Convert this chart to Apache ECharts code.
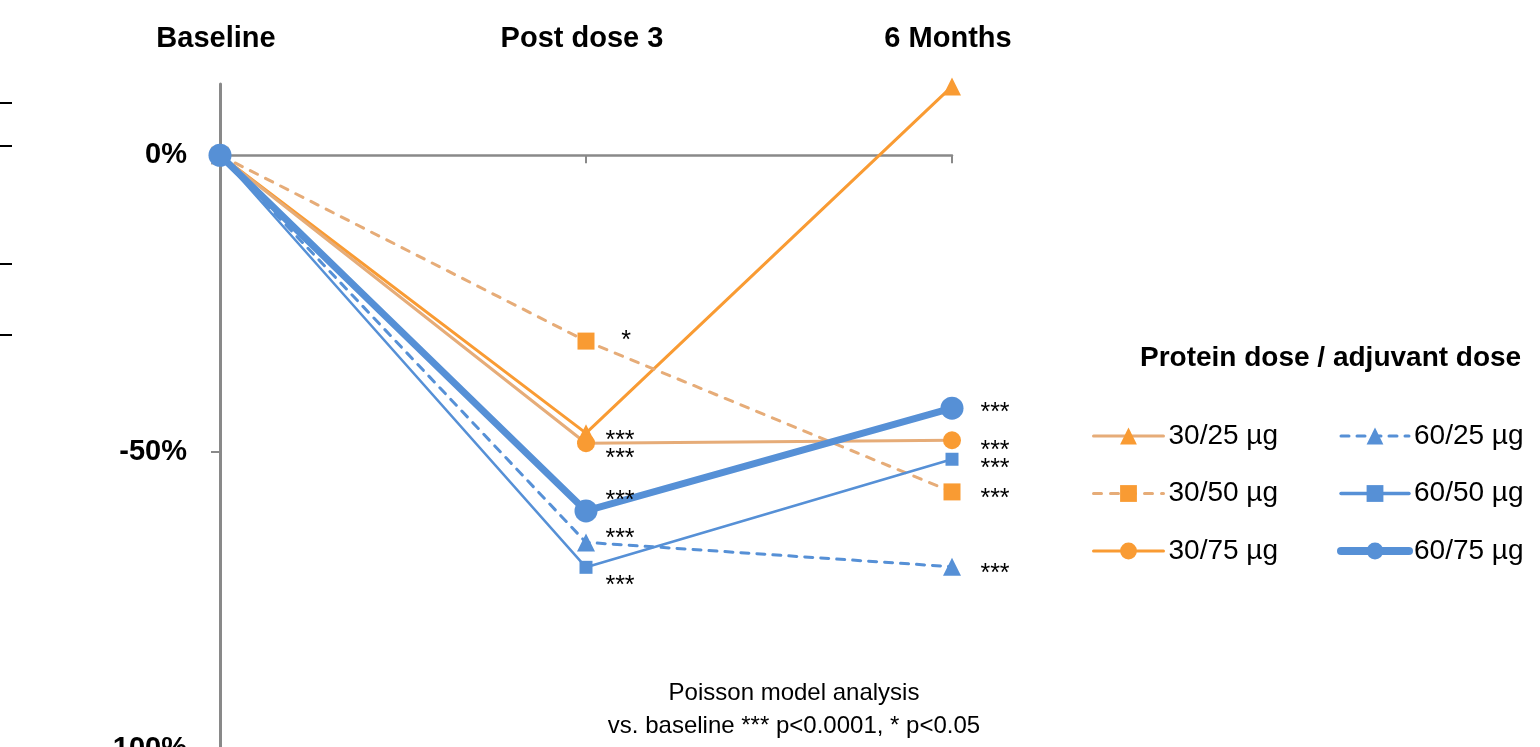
<!DOCTYPE html>
<html>
<head>
<meta charset="utf-8">
<script src="https://cdn.jsdelivr.net/npm/echarts@6/dist/echarts.min.js"></script>
<style>html,body{margin:0;padding:0;background:#fff}#c{width:1540px;height:747px}</style>
</head>
<body>
<div id="c"></div>
<script>
// ---- data ----
const categories = ['Baseline', 'Post dose 3', '6 Months'];
const seriesNames = ['30/25 µg', '30/50 µg', '30/75 µg', '60/25 µg', '60/50 µg', '60/75 µg'];
const v3025 = [0, -46.8, 11.6];
const v3050 = [0, -31.3, -56.7];
const v3075 = [0, -48.5, -48.0];
const v6025 = [0, -65.2, -69.3];
const v6050 = [0, -69.4, -51.2];
const v6075 = [0, -59.9, -42.6];
const sig3025 = ['', '***', ''];
const sig3050 = ['', '*', '***'];
const sig3075 = ['', '***', '***'];
const sig6025 = ['', '***', '***'];
const sig6050 = ['', '***', '***'];
const sig6075 = ['', '***', '***'];
const yTicks = [-100, -50, 0];
const footnote = 'Poisson model analysis\nvs. baseline *** p<0.0001, * p<0.05';
const legendTitle = 'Protein dose / adjuvant dose';

// ---- label placement (layout only) ----
const sigPos = {
  '30/25 µg': [[0, 0], [34, 8], [43, 0]],
  '30/50 µg': [[0, 0], [40, 0], [43, 7]],
  '30/75 µg': [[0, 0], [34, 16], [43, 11]],
  '60/25 µg': [[0, 0], [34, -3], [43, 7]],
  '60/50 µg': [[0, 0], [34, 19], [43, 10]],
  '60/75 µg': [[0, 0], [34, -10], [43, 5]]
};

const ORANGE = '#F99B33';
const TAN = '#E6AC78';
const BLUE = '#5690D6';
const FONT = '"Liberation Sans", Arial, sans-serif';

function mkData(vals, sig, name) {
  return vals.map((v, i) => ({
    value: v,
    label: {
      show: !!sig[i],
      formatter: sig[i] || '',
      position: 'inside',
      align: 'center',
      verticalAlign: 'middle',
      offset: sigPos[name][i],
      color: '#000',
      fontSize: 25,
      fontFamily: FONT
    }
  }));
}

function mkSeries(name, vals, sig, style) {
  return {
    name: name,
    type: 'line',
    xAxisIndex: 0,
    data: mkData(vals, sig, name),
    symbol: style.symbol,
    symbolSize: style.symbolSize,
    showAllSymbol: true,
    itemStyle: { color: style.marker },
    lineStyle: { color: style.line, width: style.width, type: style.dash || 'solid', cap: 'round' },
    emphasis: { disabled: true },
    animation: false,
    z: style.z
  };
}

const series = [
  mkSeries(seriesNames[0], v3025, sig3025, { symbol: 'triangle', symbolSize: 18, marker: ORANGE, line: ORANGE, width: 3, z: 2 }),
  mkSeries(seriesNames[1], v3050, sig3050, { symbol: 'rect', symbolSize: 17, marker: ORANGE, line: TAN, width: 3, dash: [8, 9], z: 2 }),
  mkSeries(seriesNames[2], v3075, sig3075, { symbol: 'circle', symbolSize: 18, marker: ORANGE, line: TAN, width: 3, z: 2 }),
  mkSeries(seriesNames[3], v6025, sig6025, { symbol: 'triangle', symbolSize: 18, marker: BLUE, line: BLUE, width: 3, dash: [8, 8], z: 3 }),
  mkSeries(seriesNames[4], v6050, sig6050, { symbol: 'rect', symbolSize: 13, marker: BLUE, line: BLUE, width: 2.5, z: 3 }),
  mkSeries(seriesNames[5], v6075, sig6075, { symbol: 'circle', symbolSize: 23, marker: BLUE, line: BLUE, width: 7, z: 4 })
];

const legendText = { color: '#000', fontSize: 28, fontFamily: FONT };
const legendLine = {
  '30/25 µg': { width: 3, color: TAN },
  '30/50 µg': { width: 3, color: TAN },
  '30/75 µg': { width: 3, color: ORANGE },
  '60/25 µg': { width: 3, color: BLUE },
  '60/50 µg': { width: 3.5, color: BLUE },
  '60/75 µg': { width: 8, color: BLUE }
};
function legendItems(names) {
  return names.map(n => ({ name: n, lineStyle: legendLine[n] }));
}

const option = {
  backgroundColor: '#fff',
  animation: false,
  title: [
    {
      text: footnote,
      left: 789, top: 672, textAlign: 'center',
      textStyle: { color: '#000', fontSize: 24, fontWeight: 'normal', fontFamily: FONT, lineHeight: 33 }
    },
    {
      text: legendTitle,
      left: 1135, top: 339,
      textStyle: { color: '#000', fontSize: 28, fontWeight: 'bold', fontFamily: FONT }
    }
  ],
  grid: { left: 220, right: 588, top: 84, bottom: -2, containLabel: false, outerBoundsMode: 'none' },
  xAxis: [
    {
      type: 'category', data: categories, boundaryGap: false, position: 'top',
      axisLine: { show: false, onZero: false }, axisTick: { show: false },
      axisLabel: { margin: 31, padding: [0, 8, 0, 0], color: '#000', fontSize: 29, fontWeight: 'bold', fontFamily: FONT },
      splitLine: { show: false }
    },
    {
      type: 'category', data: categories, boundaryGap: false, position: 'bottom',
      axisLine: { show: true, onZero: true, lineStyle: { color: '#898989', width: 2.5 } },
      axisTick: { show: true, length: 8, lineStyle: { color: '#898989', width: 2 } },
      axisLabel: { show: false },
      splitLine: { show: false }
    }
  ],
  yAxis: {
    type: 'value', min: -100, max: 12, interval: 50,
    axisLine: { show: true, lineStyle: { color: '#898989', width: 3 } },
    axisTick: { show: true, length: 9, customValues: [-50], lineStyle: { color: '#898989', width: 2 } },
    axisLabel: {
      customValues: yTicks,
      margin: 33, color: '#000', fontSize: 29, fontWeight: 'bold', fontFamily: FONT,
      formatter: v => (v % 50 === 0 ? v + '%' : '')
    },
    splitLine: { show: false }
  },
  legend: [
    {
      data: legendItems(seriesNames.slice(0, 3)), orient: 'vertical', left: 1092, top: 422, padding: 0,
      itemWidth: 70, itemHeight: 21, itemGap: 29.5, textStyle: legendText,
      selectedMode: false
    },
    {
      data: legendItems(seriesNames.slice(3)), orient: 'vertical', left: 1337, top: 422, padding: 0,
      itemWidth: 68, itemHeight: 21, itemGap: 29.5, textStyle: legendText,
      selectedMode: false
    }
  ],
  graphic: [
    { type: 'line', shape: { x1: 0, y1: 103, x2: 12, y2: 103 }, style: { stroke: '#000', lineWidth: 2 } },
    { type: 'line', shape: { x1: 0, y1: 146, x2: 12, y2: 146 }, style: { stroke: '#000', lineWidth: 2 } },
    { type: 'line', shape: { x1: 0, y1: 264, x2: 12, y2: 264 }, style: { stroke: '#000', lineWidth: 2 } },
    { type: 'line', shape: { x1: 0, y1: 335, x2: 12, y2: 335 }, style: { stroke: '#000', lineWidth: 2 } }
  ],
  series: series
};

const chart = echarts.init(document.getElementById('c'), null, { renderer: 'canvas' });
chart.setOption(option);
</script>
</body>
</html>
